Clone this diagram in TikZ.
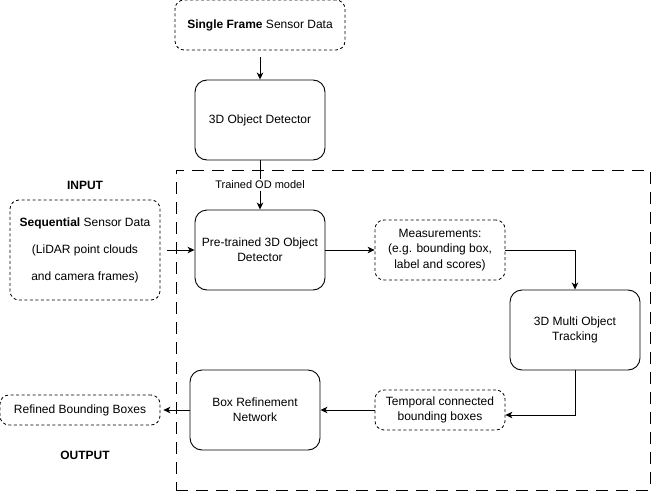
\documentclass[tikz,border=0pt]{standalone}
\usepackage{fontspec}
\setmainfont{Liberation Sans}
\usetikzlibrary{arrows.meta}

\begin{document}
\begin{tikzpicture}[x=1pt, y=-1pt,
        blocco/.style={draw, rounded corners=12pt, line width=0.9pt, minimum width=130pt, minimum height=80pt, inner sep=0pt, align=center, font=\fontsize{12}{15}\selectfont},
        dati/.style={draw, rounded corners=9pt, line width=0.8pt, dash pattern=on 3pt off 2.5pt, inner sep=0pt, align=center, font=\fontsize{12}{15.5}\selectfont},
        freccia/.style={-{Stealth[length=7pt, width=6.5pt, inset=2pt]}, line width=0.9pt}]
            \useasboundingbox (0,0) rectangle (652,492);

            % Cornice
            \node[draw, line width=0.9pt, dash pattern=on 12pt off 8pt, minimum width=474pt, minimum height=320pt, inner sep=0pt] (cornice) at (413,330) {};

            % Nodi
            \node[dati, minimum width=170pt, minimum height=50pt] (singolo) at (260,25) {\textbf{Single Frame} Sensor Data};
            \node[blocco] (detector) at (260,120) {3D Object Detector};
            \node[blocco] (pretrained) at (260,250) {Pre-trained 3D Object\\Detector};
            \node[dati, minimum width=150pt, minimum height=100pt, font=\fontsize{12}{27}\selectfont] (sequenza) at (85,250) {\textbf{Sequential} Sensor Data\\(LiDAR point clouds\\and camera frames)};
            \node[dati, minimum width=130pt, minimum height=60pt] (misure) at (440,250) {Measurements:\\(e.g. bounding box,\\label and scores)};
            \node[blocco] (tracking) at (575,330) {3D Multi Object\\Tracking};
            \node[dati, minimum width=130pt, minimum height=40pt] (temporale) at (440,410) {Temporal connected\\bounding boxes};
            \node[blocco] (refine) at (255,410) {Box Refinement\\Network};
            \node[dati, minimum width=160pt, minimum height=30pt] (uscita) at (80,410) {Refined Bounding Boxes};

            % Etichette
            \node[font=\fontsize{12}{15}\selectfont\bfseries] (input) at (85,185) {INPUT};
            \node[font=\fontsize{12}{15}\selectfont\bfseries] (output) at (85,455) {OUTPUT};

            % Archi
            \draw[freccia, shorten <=7pt] (singolo) -- (detector);
            \draw[freccia] (detector) -- node[fill=white, inner sep=1.5pt, font=\fontsize{11}{13}\selectfont] {Trained OD model} (pretrained);
            \draw[freccia, shorten <=7pt] (sequenza) -- (pretrained);
            \draw[freccia] (pretrained) -- (misure);
            \draw[freccia] (misure.east) -| (tracking.north);
            \draw[freccia] (tracking.south) |- ([yshift=-5pt]temporale.east);
            \draw[freccia] (temporale) -- (refine);
            \draw[freccia, shorten >=3pt] (refine) -- (uscita);
        \end{tikzpicture}
\end{document}
